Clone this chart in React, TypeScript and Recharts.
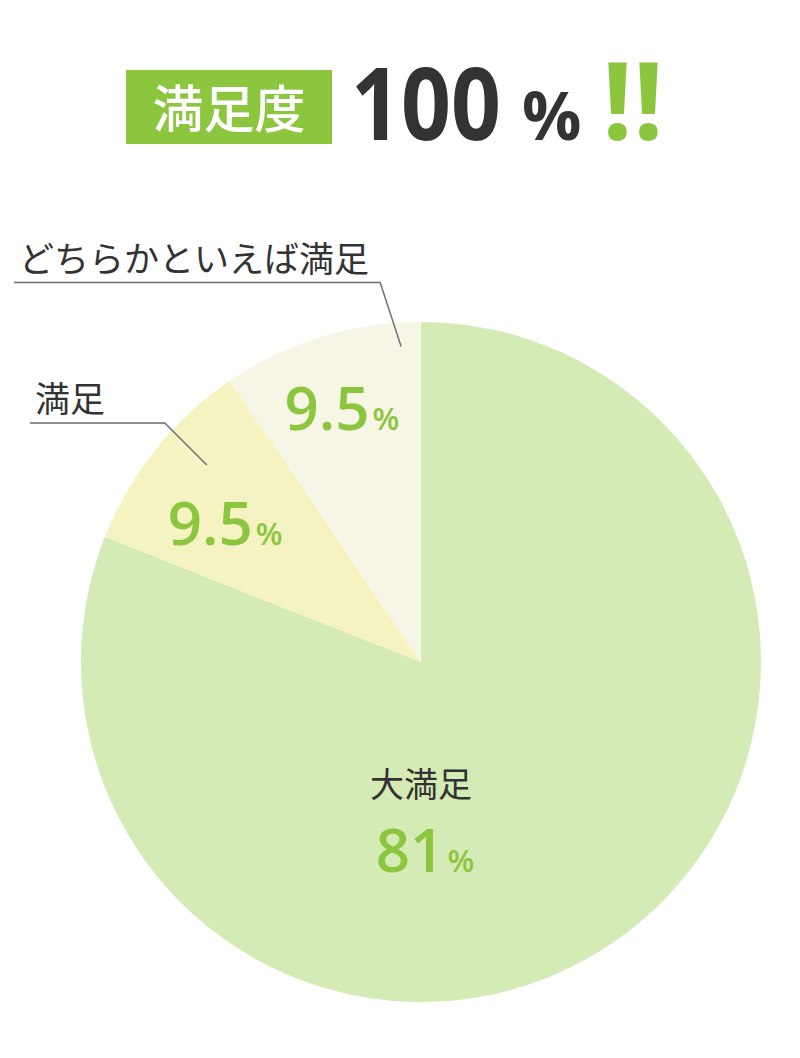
import React from 'react';
import { PieChart, Pie, Cell } from 'recharts';

const categories = ['大満足', '満足', 'どちらかといえば満足'];
const values = [81, 9.5, 9.5];
const sliceColors = ['#d5ebb5', '#f6f3c3', '#f7f6e6'];
const pctLabels = ['81', '9.5', '9.5'];

const GREEN = '#8cc63f';
const DARK = '#333333';
const JP = '"Noto Sans CJK JP", "Noto Sans", sans-serif';
const NUM = '"Open Sans", "Noto Sans", sans-serif';
const RADIAN = Math.PI / 180;

// label layout for the two small slices (index 1, 2)
const outerLayout: Record<number, any> = {
  1: { pctR: 240, pctOff: 3.4, tipR: 291, tipOff: -3.9, elbowDx: -42, elbowDy: -42, lineLeft: 30 },
  2: { pctR: 266, pctOff: 0.2, tipR: 316, tipOff: -13.5, elbowDx: -21, elbowDy: -64, lineLeft: 14 },
};

const data = categories.map((name, i) => ({ name, value: values[i] }));

const polar = (cx: number, cy: number, r: number, angle: number) => ({
  x: cx + r * Math.cos(-angle * RADIAN),
  y: cy + r * Math.sin(-angle * RADIAN),
});

const PctText = ({ x, y, text }: { x: number; y: number; text: string }) => (
  <text x={x} y={y} textAnchor="middle" fill={GREEN} fontFamily={NUM} fontWeight={600}>
    <tspan fontSize={60}>{text}</tspan>
    <tspan fontSize={31} dx={3}>%</tspan>
  </text>
);

const renderLabel = (props: any) => {
  const { cx, cy, midAngle, index } = props;
  if (index === 0) {
    return (
      <g>
        <text x={cx} y={cy + 135} textAnchor="middle" fill={DARK} fontFamily={JP} fontSize={34}>
          {categories[0]}
        </text>
        <PctText x={cx + 4} y={cy + 210} text={pctLabels[0]} />
      </g>
    );
  }
  const l = outerLayout[index];
  const p = polar(cx, cy, l.pctR, midAngle + l.pctOff);
  const tip = polar(cx, cy, l.tipR, midAngle + l.tipOff);
  const ex = tip.x + l.elbowDx;
  const ey = tip.y + l.elbowDy;
  return (
    <g>
      <PctText x={p.x} y={p.y + 22} text={pctLabels[index]} />
      <polyline
        points={`${tip.x},${tip.y} ${ex},${ey} ${l.lineLeft},${ey}`}
        fill="none"
        stroke="#6e6e6e"
        strokeWidth={1.5}
      />
      <text x={l.lineLeft + 5} y={ey - 11} fill={DARK} fontFamily={JP} fontSize={35}>
        {categories[index]}
      </text>
    </g>
  );
};

const App: React.FC = () => {
  return (
    <div style={{ position: 'absolute', left: 0, top: 0, width: 800, height: 1058, background: '#fff' }}>
      <svg width={800} height={170} style={{ position: 'absolute', left: 0, top: 0 }}>
        <rect x={126} y={70} width={206} height={74} fill={GREEN} />
        <text x={229} y={128} textAnchor="middle" fill="#fff" fontFamily={JP} fontSize={51} fontWeight={500}>
          満足度
        </text>
        <text
          x={351}
          y={140}
          fill={DARK}
          fontFamily={NUM}
          fontWeight={700}
          fontSize={100}
          textLength={150}
          lengthAdjust="spacingAndGlyphs"
        >
          100
        </text>
        <text x={522} y={140} fill={DARK} fontFamily={NUM} fontWeight={700} fontSize={66}>
          %
        </text>
        <text x={602} y={140} fill={GREEN} fontFamily={NUM} fontWeight={700} fontSize={108}>
          !!
        </text>
      </svg>
      <div style={{ position: 'absolute', left: 0, top: 0 }}>
        <PieChart width={800} height={1058} margin={{ top: 0, right: 0, bottom: 0, left: 0 }}>
          <Pie
            data={data}
            dataKey="value"
            nameKey="name"
            cx={421}
            cy={662}
            outerRadius={340}
            startAngle={90}
            endAngle={-270}
            stroke="none"
            label={renderLabel}
            labelLine={false}
            isAnimationActive={false}
          >
            {data.map((_, i) => (
              <Cell key={i} fill={sliceColors[i]} />
            ))}
          </Pie>
        </PieChart>
      </div>
    </div>
  );
};

export default App;
